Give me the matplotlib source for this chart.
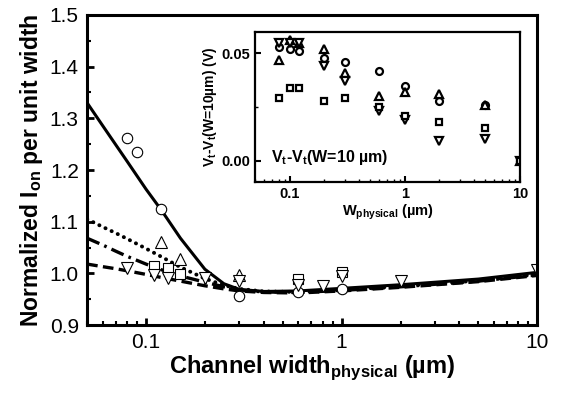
import matplotlib
matplotlib.use("Agg")
import matplotlib.pyplot as plt
from matplotlib.ticker import LogLocator, NullFormatter, MultipleLocator

plt.rcParams['font.family'] = ['Liberation Sans', 'DejaVu Sans']
plt.rcParams['mathtext.fontset'] = 'custom'
plt.rcParams['mathtext.rm'] = 'Liberation Sans'
plt.rcParams['mathtext.bf'] = 'Liberation Sans:bold'

# simulated curves (main plot)
w_line = [0.05, 0.06, 0.07, 0.08, 0.1, 0.12, 0.15, 0.2, 0.25, 0.3, 0.4, 0.6, 1, 2, 5, 10]
solid = [1.33, 1.286, 1.249, 1.217, 1.163, 1.122, 1.068, 1.008, 0.980, 0.969, 0.965, 0.966, 0.971, 0.978, 0.989, 1.002]
dotted = [1.105, 1.090, 1.078, 1.067, 1.048, 1.032, 1.012, 0.990, 0.977, 0.970, 0.965, 0.964, 0.968, 0.975, 0.986, 0.998]
dashdot = [1.068, 1.055, 1.043, 1.033, 1.018, 1.007, 0.995, 0.983, 0.974, 0.968, 0.964, 0.963, 0.967, 0.974, 0.985, 0.997]
dashed = [1.018, 1.013, 1.009, 1.005, 0.998, 0.992, 0.985, 0.976, 0.970, 0.966, 0.963, 0.962, 0.966, 0.973, 0.984, 0.996]

# measured points (main plot)
circ_x = [0.08, 0.09, 0.12, 0.3, 0.6, 1.0]
circ_y = [1.262, 1.235, 1.124, 0.957, 0.963, 0.970]
up_x = [0.12, 0.15, 0.3]
up_y = [1.060, 1.028, 0.997]
sq_x = [0.11, 0.13, 0.15, 0.6, 1.0]
sq_y = [1.015, 1.011, 0.998, 0.990, 1.003]
dn_x = [0.08, 0.11, 0.13, 0.2, 0.3, 0.6, 0.8, 1.0, 2.0, 10.0]
dn_y = [1.011, 0.996, 0.992, 0.992, 0.986, 0.978, 0.975, 0.994, 0.986, 1.007]

# inset: Vt - Vt(W=10um)
w_in = [0.08, 0.1, 0.12, 0.2, 0.3, 0.6, 1, 2, 5, 10]
vt_circ = [0.053, 0.052, 0.051, 0.048, 0.046, 0.042, 0.035, 0.028, 0.026, 0.0]
vt_up = [0.047, 0.056, 0.055, 0.052, 0.041, 0.030, 0.032, 0.031, 0.026, 0.0]
vt_dn = [0.055, 0.055, 0.055, 0.044, 0.037, 0.023, 0.019, 0.009, 0.010, 0.0]
vt_sq = [0.029, 0.034, 0.034, 0.028, 0.029, 0.025, 0.021, 0.018, 0.015, 0.0]

fig = plt.figure(figsize=(5.62, 3.94), dpi=100)
ax = fig.add_axes([0.155, 0.175, 0.801, 0.787])

ax.plot(w_line, solid, 'k-', lw=2.2)
ax.plot(w_line, dotted, 'k', ls=(0, (0.05, 1.7)), lw=2.8, dash_capstyle='round')
ax.plot(w_line, dashdot, 'k', ls=(0, (4, 1.6, 0.8, 1.6)), lw=2.4)
ax.plot(w_line, dashed, 'k', ls=(0, (3.2, 1.6)), lw=2.4)

mk = dict(ls='none', mfc='white', mec='k', mew=0.8)
ax.plot(circ_x, circ_y, marker='o', ms=7.5, **mk)
ax.plot(up_x, up_y, marker='^', ms=9, **mk)
ax.plot(sq_x, sq_y, marker='s', ms=7, **mk)
ax.plot(dn_x, dn_y, marker='v', ms=9, **mk)

ax.set_xscale('log')
ax.set_xlim(0.05, 10)
ax.set_ylim(0.9, 1.5)
ax.set_xticks([0.1, 1, 10])
ax.set_xticklabels(['0.1', '1', '10'])
ax.xaxis.set_minor_locator(LogLocator(base=10, subs=range(2, 10)))
ax.xaxis.set_minor_formatter(NullFormatter())
ax.set_yticks([0.9, 1.0, 1.1, 1.2, 1.3, 1.4, 1.5])
ax.set_yticklabels(['0.9', '1.0', '1.1', '1.2', '1.3', '1.4', '1.5'])
ax.yaxis.set_minor_locator(MultipleLocator(0.05))
ax.tick_params(which='major', direction='in', length=5, width=2, labelsize=15, pad=6)
ax.tick_params(which='minor', direction='in', length=3, width=1.5)
for s in ax.spines.values():
    s.set_linewidth(2.2)
ax.set_xlabel('Channel width$_{\\mathbf{physical}}$ (µm)', fontsize=17, fontweight='bold', labelpad=1)
ax.set_ylabel('Normalized I$_{\\mathbf{on}}$ per unit width', fontsize=16.5, fontweight='bold', labelpad=3)

# inset
ins = fig.add_axes([0.454, 0.538, 0.471, 0.381])
mi = dict(ls='none', mfc='white', mec='k', mew=1.6)
ins.plot(w_in, vt_circ, marker='o', ms=5, **mi)
ins.plot(w_in, vt_up, marker='^', ms=5.5, **mi)
ins.plot(w_in, vt_dn, marker='v', ms=5.5, **mi)
ins.plot(w_in, vt_sq, marker='s', ms=4.5, **mi)
ins.set_xscale('log')
ins.set_xlim(0.05, 10)
ins.set_ylim(-0.01, 0.06)
ins.set_xticks([0.1, 1, 10])
ins.set_xticklabels(['0.1', '1', '10'])
ins.xaxis.set_minor_locator(LogLocator(base=10, subs=range(2, 10)))
ins.xaxis.set_minor_formatter(NullFormatter())
ins.set_yticks([0.0, 0.05])
ins.set_yticklabels(['0.00', '0.05'])
ins.yaxis.set_minor_locator(MultipleLocator(0.025))
ins.tick_params(which='major', direction='in', length=4, width=1.5, labelsize=10.5)
ins.tick_params(which='minor', direction='in', length=2, width=1)
for lab in ins.get_xticklabels() + ins.get_yticklabels():
    lab.set_fontweight('bold')
for s in ins.spines.values():
    s.set_linewidth(1.6)
ins.set_xlabel('W$_{\\mathbf{physical}}$ (µm)', fontsize=10.5, fontweight='bold', labelpad=1)
ins.set_ylabel('V$_{\\mathbf{t}}$-V$_{\\mathbf{t}}$(W=10µm) (V)', fontsize=10, fontweight='bold', labelpad=2)
ins.text(0.068, 0.0015, 'V$_{\\mathbf{t}}$-V$_{\\mathbf{t}}$(W=10 µm)', fontsize=11.5, fontweight='bold',
         va='center')

fig.savefig('out.png', dpi=100)
